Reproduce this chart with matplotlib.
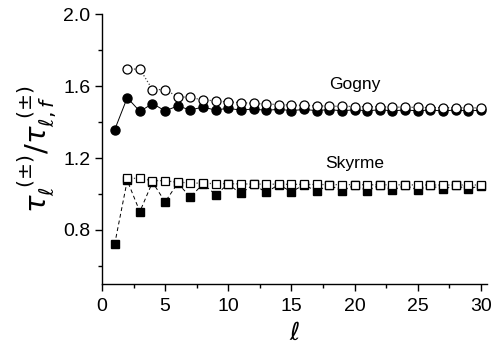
import matplotlib
matplotlib.use("Agg")
import matplotlib.pyplot as plt
from matplotlib.ticker import MultipleLocator

plt.rcParams['font.family'] = ['Liberation Sans', 'DejaVu Sans']
plt.rcParams['mathtext.fontset'] = 'dejavusans'

l_open = list(range(2, 31))
l_filled = list(range(1, 31))

gogny_open = [1.694, 1.694, 1.580, 1.580, 1.540, 1.537, 1.522, 1.518, 1.511, 1.508,
              1.503, 1.500, 1.497, 1.494, 1.492, 1.490, 1.488, 1.487, 1.486, 1.485,
              1.484, 1.483, 1.482, 1.481, 1.480, 1.480, 1.479, 1.479, 1.478]
gogny_filled = [1.356, 1.535, 1.459, 1.502, 1.462, 1.489, 1.467, 1.483, 1.466, 1.477,
                1.465, 1.473, 1.464, 1.471, 1.463, 1.470, 1.463, 1.469, 1.462, 1.468,
                1.462, 1.468, 1.462, 1.467, 1.462, 1.467, 1.461, 1.467, 1.461, 1.466]
skyrme_open = [1.087, 1.087, 1.074, 1.074, 1.065, 1.062, 1.059, 1.058, 1.057, 1.056,
               1.055, 1.055, 1.054, 1.054, 1.053, 1.053, 1.052, 1.052, 1.052, 1.051,
               1.051, 1.051, 1.051, 1.050, 1.050, 1.050, 1.050, 1.050, 1.050]
skyrme_filled = [0.720, 1.075, 0.902, 1.066, 0.956, 1.060, 0.983, 1.056, 0.997, 1.054,
                 1.003, 1.053, 1.009, 1.052, 1.012, 1.051, 1.015, 1.050, 1.017, 1.049,
                 1.019, 1.049, 1.021, 1.048, 1.023, 1.048, 1.025, 1.048, 1.027, 1.047]

fig = plt.figure(figsize=(4.92, 3.53), dpi=100)
ax = fig.add_axes([0.2073, 0.1955, 0.7827, 0.7648])

ms = 6.5
ax.plot(l_filled, gogny_filled, '-', color='black', lw=0.7, marker='o', ms=ms,
        mfc='black', mec='black', zorder=2)
ax.plot(l_open, gogny_open, ':', color='#444444', lw=0.9, marker='o', ms=ms,
        mfc='white', mec='black', mew=0.9, zorder=3)
ax.plot(l_filled, skyrme_filled, '--', color='black', lw=0.7, marker='s', ms=ms - 0.7,
        mfc='black', mec='black', zorder=2, dashes=(4, 3))
ax.plot(l_open, skyrme_open, ':', color='#444444', lw=0.9, marker='s', ms=ms - 0.4,
        mfc='white', mec='black', mew=0.9, zorder=3)

ax.text(20.0, 1.606, 'Gogny', fontsize=12.5, ha='center', va='center')
ax.text(20.0, 1.172, 'Skyrme', fontsize=12.5, ha='center', va='center')

ax.set_xlim(0, 30.5)
ax.set_ylim(0.5, 2.0)
ax.xaxis.set_major_locator(MultipleLocator(5))
ax.xaxis.set_minor_locator(MultipleLocator(2.5))
ax.yaxis.set_minor_locator(MultipleLocator(0.2))
ax.set_yticks([0.8, 1.2, 1.6, 2.0])
ax.set_yticklabels(['0.8', '1.2', '1.6', '2.0'])

for s in ['top', 'right']:
    ax.spines[s].set_visible(False)
for s in ['left', 'bottom']:
    ax.spines[s].set_linewidth(1.0)

ax.tick_params(which='major', direction='out', length=5, width=1, labelsize=14)
ax.tick_params(axis='x', which='major', pad=5)
ax.tick_params(which='minor', direction='out', length=3, width=1)

ax.set_xlabel(r'$\ell$', fontsize=18, labelpad=4)
ax.set_ylabel(r'$\tau_{\ell}^{\ (\pm)}/\tau_{\ell,f}^{\ (\pm)}$', fontsize=21, labelpad=3)

fig.savefig('out.png', dpi=100)
